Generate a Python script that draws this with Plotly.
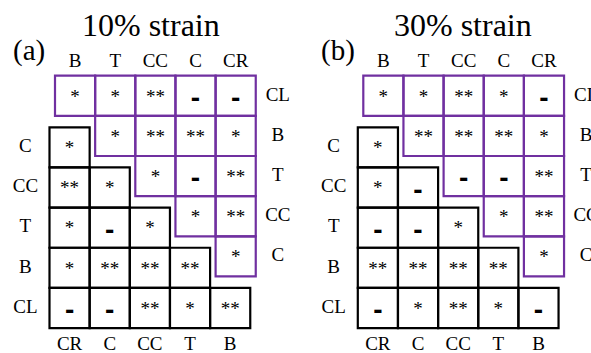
import plotly.graph_objects as go

# ---- data -------------------------------------------------------------
# purple (upper-right) triangle: rows down the right side, columns along the top
upper_cols = ["B", "T", "CC", "C", "CR"]
upper_rows = ["CL", "B", "T", "CC", "C"]
# black (lower-left) triangle: rows down the left side, columns along the bottom
lower_rows = ["C", "CC", "T", "B", "CL"]
lower_cols = ["CR", "C", "CC", "T", "B"]

titles = ["10% strain", "30% strain"]
panel_tags = ["(a)", "(b)"]

# significance marks, row by row (upper row i starts at column i)
upper_10 = [["*", "*", "**", "-", "-"],
            ["*", "**", "**", "*"],
            ["*", "-", "**"],
            ["*", "**"],
            ["*"]]
lower_10 = [["*"],
            ["**", "*"],
            ["*", "-", "*"],
            ["*", "**", "**", "**"],
            ["-", "-", "**", "*", "**"]]

upper_30 = [["*", "*", "**", "*", "-"],
            ["**", "**", "**", "*"],
            ["-", "-", "**"],
            ["*", "**"],
            ["*"]]
lower_30 = [["*"],
            ["*", "-"],
            ["-", "-", "*"],
            ["**", "**", "**", "**"],
            ["-", "*", "**", "*", "-"]]

panels = [(upper_10, lower_10), (upper_30, lower_30)]

# ---- layout constants -------------------------------------------------
W, H = 591, 353
CELL = 40.15                      # one grid cell in pixels
PANEL_X0 = [55.0, 363.3]          # left edge of the purple triangle per panel
GRID_Y0 = 75.7                    # top edge of the purple triangle
LOWER_DX = -5.5 / CELL            # black triangle offset, in cells
LOWER_DY = 51.6 / CELL
PURPLE = "#7030A0"
SERIF = "Liberation Serif"
SANS = "Liberation Sans"

fig = go.Figure()
shapes = []


def add_marks(xs, ys, marks, xref, yref):
    star_x, star_y, star_t = [], [], []
    dash_x, dash_y = [], []
    for x, y, m in zip(xs, ys, marks):
        if m == "-":
            dash_x.append(x)
            dash_y.append(y + 0.11)
        else:
            star_x.append(x)
            star_y.append(y + 0.05)
            star_t.append(m)
    fig.add_trace(go.Scatter(
        x=star_x, y=star_y, text=star_t, mode="text",
        textposition="middle center",
        textfont=dict(family=SERIF, size=19, color="black"),
        xaxis=xref, yaxis=yref, showlegend=False, hoverinfo="skip"))
    fig.add_trace(go.Scatter(
        x=dash_x, y=dash_y, text=["<b>-</b>"] * len(dash_x), mode="text",
        textposition="middle center",
        textfont=dict(family=SANS, size=28, color="black"),
        xaxis=xref, yaxis=yref, showlegend=False, hoverinfo="skip"))


for p, (upper, lower) in enumerate(panels):
    xa = "x" if p == 0 else "x2"

    # upper (purple) cells
    ux, uy, um = [], [], []
    for i, row in enumerate(upper):
        for k, mark in enumerate(row):
            j = i + k
            shapes.append(dict(type="rect", xref=xa, yref="y",
                               x0=j, x1=j + 1, y0=i, y1=i + 1,
                               line=dict(color=PURPLE, width=2.2),
                               fillcolor="rgba(0,0,0,0)", layer="above"))
            ux.append(j + 0.5)
            uy.append(i + 0.5)
            um.append(mark)
    add_marks(ux, uy, um, xa, "y")

    # lower (black) cells
    lx, ly, lm = [], [], []
    for r, row in enumerate(lower):
        for c, mark in enumerate(row):
            shapes.append(dict(type="rect", xref=xa, yref="y",
                               x0=LOWER_DX + c, x1=LOWER_DX + c + 1,
                               y0=LOWER_DY + r, y1=LOWER_DY + r + 1,
                               line=dict(color="black", width=2.2),
                               fillcolor="rgba(0,0,0,0)", layer="above"))
            lx.append(LOWER_DX + c + 0.5)
            ly.append(LOWER_DY + r + 0.5)
            lm.append(mark)
    add_marks(lx, ly, lm, xa, "y")

    lab_font = dict(family=SERIF, size=19, color="black")
    # column labels above the purple triangle
    fig.add_trace(go.Scatter(
        x=[j + 0.5 for j in range(len(upper_cols))],
        y=[-0.33] * len(upper_cols), text=upper_cols, mode="text",
        textfont=lab_font, xaxis=xa, yaxis="y", showlegend=False,
        hoverinfo="skip"))
    # row labels right of the purple triangle
    fig.add_trace(go.Scatter(
        x=[5.55] * len(upper_rows),
        y=[i + 0.5 for i in range(len(upper_rows))], text=upper_rows,
        mode="text", textfont=lab_font, xaxis=xa, yaxis="y",
        showlegend=False, hoverinfo="skip"))
    # row labels left of the black triangle
    fig.add_trace(go.Scatter(
        x=[LOWER_DX - 0.6] * len(lower_rows),
        y=[LOWER_DY + r + 0.5 for r in range(len(lower_rows))],
        text=lower_rows, mode="text", textfont=lab_font, xaxis=xa,
        yaxis="y", showlegend=False, hoverinfo="skip"))
    # column labels below the black triangle
    fig.add_trace(go.Scatter(
        x=[LOWER_DX + c + 0.5 for c in range(len(lower_cols))],
        y=[LOWER_DY + 5.42] * len(lower_cols), text=lower_cols,
        mode="text", textfont=lab_font, xaxis=xa, yaxis="y",
        showlegend=False, hoverinfo="skip"))

annotations = []
title_cx = [151.0, 462.5]
tag_cx = [29.0, 338.0]
for p in range(2):
    annotations.append(dict(
        text=titles[p], xref="paper", yref="paper",
        x=title_cx[p] / W, y=1 - 25.0 / H, xanchor="center",
        yanchor="middle", showarrow=False,
        font=dict(family=SERIF, size=32, color="black")))
    annotations.append(dict(
        text=panel_tags[p], xref="paper", yref="paper",
        x=tag_cx[p] / W, y=1 - 50.0 / H, xanchor="center",
        yanchor="middle", showarrow=False,
        font=dict(family=SERIF, size=29, color="black")))

hidden = dict(visible=False, showgrid=False, zeroline=False, fixedrange=True)
fig.update_layout(
    width=W, height=H,
    margin=dict(l=0, r=0, t=0, b=0),
    paper_bgcolor="white", plot_bgcolor="white",
    font=dict(family=SERIF, color="black"),
    shapes=shapes, annotations=annotations,
    xaxis=dict(domain=[0, 1],
               range=[-PANEL_X0[0] / CELL, (W - PANEL_X0[0]) / CELL], **hidden),
    xaxis2=dict(domain=[0, 1], overlaying="x",
                range=[-PANEL_X0[1] / CELL, (W - PANEL_X0[1]) / CELL], **hidden),
    yaxis=dict(domain=[0, 1],
               range=[(H - GRID_Y0) / CELL, -GRID_Y0 / CELL], **hidden),
)

fig.write_html("out.html")
